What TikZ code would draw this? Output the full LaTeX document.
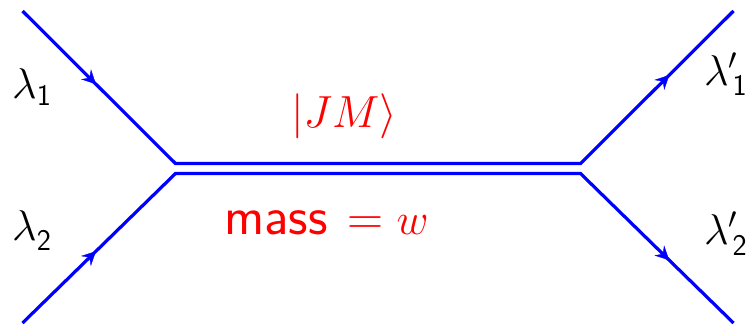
\RequirePackage{fix-cm}
\documentclass[tikz,border=0pt]{standalone}
\usetikzlibrary{arrows.meta,decorations.markings}
\definecolor{lineblue}{RGB}{0,0,255}
\definecolor{labred}{RGB}{255,0,0}
\tikzset{
  wire/.style={draw=lineblue, line width=3.2pt, line join=miter},
  arrowat/.style={postaction={decorate}, decoration={markings,
      mark=at position #1 with {\arrow[lineblue]{Stealth[length=14pt,width=14pt,inset=5pt]}}}},
  lab/.style={inner sep=0pt, anchor=base west, font=\fontsize{43}{50}\selectfont},
  redlab/.style={lab, text=labred},
}
% helicity label: #1 = prime or empty, #2 = kern, #3 = drop, #4 = digit
\newcommand{\hlab}[4]{$\lambda#1$\kern#2\raisebox{#3}{\fontsize{30}{30}\selectfont\sffamily #4}}
\begin{document}
\begin{tikzpicture}[x=1pt,y=-1pt]
\useasboundingbox (0,0) rectangle (749,325);
\coordinate (a1) at (22.5,11);
\coordinate (a2) at (22.5,323);
\coordinate (jL1) at (175.5,163.5);
\coordinate (jL2) at (175.5,173.5);
\coordinate (jR1) at (580.5,163.5);
\coordinate (jR2) at (580.5,173.5);
\coordinate (b1) at (733.5,11);
\coordinate (b2) at (733.5,323);
\draw[wire] (a1) -- (jL1) -- (jR1) -- (b1);
\draw[wire] (a2) -- (jL2) -- (jR2) -- (b2);
\path[arrowat=0.48] (a1) -- (jL1);
\path[arrowat=0.48] (a2) -- (jL2);
\path[arrowat=0.58] (jR1) -- (b1);
\path[arrowat=0.58] (jR2) -- (b2);
\node[lab] (l1) at (12,98) {\hlab{}{0pt}{-7pt}{1}};
\node[lab] (l2) at (12,240) {\hlab{}{0pt}{-10pt}{2}};
\node[lab] (r1) at (704,85) {\hlab{'}{-5pt}{-10pt}{1}};
\node[lab] (r2) at (704,244) {\hlab{'}{-5pt}{-11pt}{2}};
\node[redlab] (jm) at (291,127) {\fontsize{45}{50}\selectfont$|JM\rangle$};
\node[redlab] (mw) at (224,234) {{\fontsize{54}{60}\selectfont\sffamily mass}\kern20pt{\fontsize{50}{56}\selectfont$=$}\kern13pt{\fontsize{44}{50}\selectfont$w$}};
\end{tikzpicture}
\end{document}
